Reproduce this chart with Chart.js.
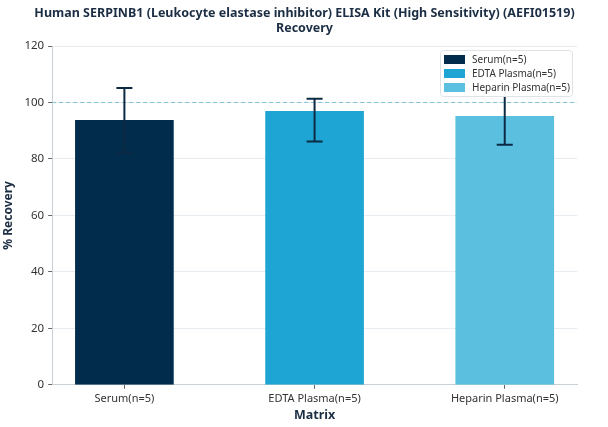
<!DOCTYPE html>
<html lang="en">
<head>
  <meta charset="UTF-8">
  <title>SERPINB1 ELISA Recovery</title>
  <script src="https://cdn.jsdelivr.net/npm/chart.js"></script>
  <style>
    body {
      margin: 0;
      padding: 0;
      background: #fff;
    }
    .wrap {
      width: 608px;
      height: 427px;
    }
  </style>
</head>
<body>
  <div class="wrap">
    <canvas id="recoveryChart" width="608" height="427"></canvas>
  </div>

  <script>
    // Values
    const categories = ['Serum(n=5)', 'EDTA Plasma(n=5)', 'Heparin Plasma(n=5)'];
    const recovery = [93.7, 96.9, 95.1];
    const errLow = [82.3, 86.2, 85.0];
    const errHigh = [105.1, 101.3, 105.2];
    const yTicks = [0, 20, 40, 60, 80, 100, 120];
    const refLine = 100;

    const barColors = ['#022c4b', '#1fa5d3', '#5bbfe0'];
    const navy = '#1c2e44';

    Chart.defaults.font.family = "'Noto Sans', 'Open Sans', sans-serif";
    Chart.defaults.color = '#333';

    // dashed reference line at 100%
    const refLinePlugin = {
      id: 'refLine',
      beforeDatasetsDraw(chart) {
        const { ctx, chartArea, scales } = chart;
        const y = scales.y.getPixelForValue(refLine);
        ctx.save();
        ctx.strokeStyle = '#7fc0d6';
        ctx.lineWidth = 1;
        ctx.setLineDash([4, 3]);
        ctx.beginPath();
        ctx.moveTo(chartArea.left, y);
        ctx.lineTo(chartArea.right, y);
        ctx.stroke();
        ctx.restore();
      }
    };

    // error bars, then the legend box on top of them
    const errorBarsPlugin = {
      id: 'errorBars',
      afterDatasetsDraw(chart) {
        const { ctx, scales, chartArea } = chart;
        ctx.save();
        ctx.strokeStyle = '#0d2a44';
        ctx.lineWidth = 2;
        categories.forEach((c, i) => {
          const x = scales.x.getPixelForValue(i);
          const yLo = scales.y.getPixelForValue(errLow[i]);
          const yHi = scales.y.getPixelForValue(errHigh[i]);
          ctx.beginPath();
          ctx.moveTo(x, yLo);
          ctx.lineTo(x, yHi);
          ctx.moveTo(x - 8, yLo);
          ctx.lineTo(x + 8, yLo);
          ctx.moveTo(x - 8, yHi);
          ctx.lineTo(x + 8, yHi);
          ctx.stroke();
        });

        // legend
        const bw = 132, bh = 46;
        const bx = chartArea.right - 5 - bw;
        const by = chartArea.top + 4;
        ctx.fillStyle = 'rgba(255,255,255,0.95)';
        ctx.strokeStyle = '#dde3e7';
        ctx.lineWidth = 1;
        ctx.beginPath();
        ctx.roundRect(bx + 0.5, by + 0.5, bw, bh, 3);
        ctx.fill();
        ctx.stroke();
        ctx.font = "10px 'Noto Sans', sans-serif";
        ctx.textBaseline = 'middle';
        categories.forEach((c, i) => {
          const ry = by + 9 + i * 14;
          ctx.fillStyle = barColors[i];
          ctx.fillRect(bx + 4, ry - 4, 21, 9);
          ctx.fillStyle = '#333';
          ctx.fillText(c, bx + 32, ry + 1);
        });
        ctx.restore();
      }
    };

    function createChart() {
      const datasets = categories.map((c, i) => ({
        label: c,
        data: [{ x: i, y: recovery[i] }],
        backgroundColor: barColors[i],
        barThickness: 98,
        grouped: false
      }));

      const ctx = document.getElementById('recoveryChart').getContext('2d');
      new Chart(ctx, {
        type: 'bar',
        data: { datasets: datasets },
        options: {
          responsive: false,
          animation: false,
          layout: {
            padding: { left: 1, right: 0, top: 0, bottom: 4 }
          },
          plugins: {
            legend: { display: false },
            tooltip: { enabled: false },
            title: {
              display: true,
              text: ['Human SERPINB1 (Leukocyte elastase inhibitor) ELISA Kit (High Sensitivity) (AEFI01519)', 'Recovery'],
              color: navy,
              font: { size: 12.5, weight: 'bold' },
              lineHeight: 1.3,
              padding: { top: 6, bottom: 10 }
            }
          },
          scales: {
            x: {
              type: 'linear',
              offset: false,
              min: -0.38,
              max: 2.38,
              afterBuildTicks: axis => {
                axis.ticks = categories.map((c, i) => ({ value: i }));
              },
              // keep empty room right of the plot without shifting the title
              afterFit: axis => {
                axis.paddingRight = 31;
              },
              ticks: {
                callback: v => categories[v],
                color: '#333',
                font: { size: 11 },
                padding: 3,
                maxRotation: 0
              },
              grid: {
                offset: false,
                drawOnChartArea: false,
                drawTicks: true,
                tickLength: 4,
                tickColor: '#666'
              },
              border: { color: '#c9d1d7' },
              title: {
                display: true,
                text: 'Matrix',
                color: navy,
                font: { size: 12.5, weight: 'bold' },
                padding: { top: 0, bottom: 0 }
              }
            },
            y: {
              min: 0,
              max: 120,
              afterBuildTicks: axis => {
                axis.ticks = yTicks.map(v => ({ value: v }));
              },
              ticks: {
                color: '#333',
                font: { size: 11.5 },
                padding: 4
              },
              grid: {
                color: '#e6ecef',
                tickColor: '#666',
                tickLength: 4
              },
              border: { color: '#c9d1d7' },
              title: {
                display: true,
                text: '% Recovery',
                color: navy,
                font: { size: 12, weight: 'bold' },
                padding: { top: 0, bottom: 5 }
              }
            }
          }
        },
        plugins: [refLinePlugin, errorBarsPlugin]
      });
    }

    document.addEventListener('DOMContentLoaded', function () {
      createChart();
    });
  </script>
</body>
</html>
